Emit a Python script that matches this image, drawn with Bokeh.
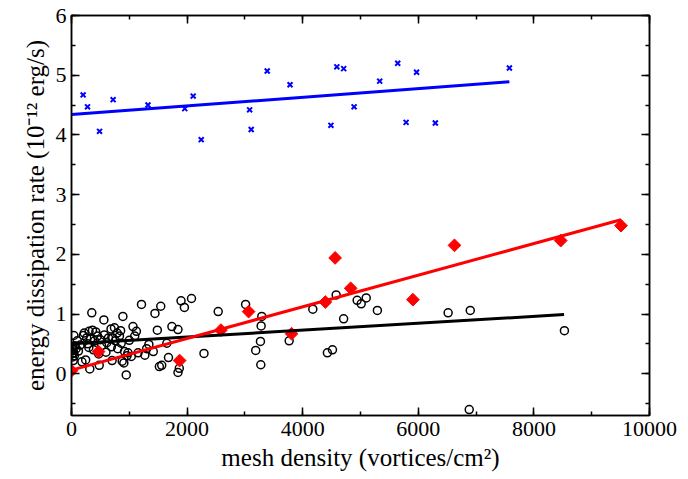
from bokeh.plotting import figure
from bokeh.models import LinearAxis, SingleIntervalTicker, Range1d, CustomJSTickFormatter
from bokeh.embed import file_html
from bokeh.resources import INLINE

# ---- data ----
blue_x = [201, 277, 485, 720, 1323, 1960, 2105, 2244, 3082, 3109, 3386, 3781,
          4488, 4591, 4709, 4889, 5332, 5644, 5789, 5970, 6295, 7576]
blue_y = [4.67, 4.47, 4.06, 4.59, 4.50, 4.44, 4.65, 3.92, 4.42, 4.09, 5.07, 4.84,
          4.16, 5.14, 5.11, 4.47, 4.90, 5.20, 4.21, 5.05, 4.20, 5.12]

red_x = [0, 468, 1871, 2585, 3064, 3807, 4392, 4561, 4830, 5907, 6626, 8464, 9507]
red_y = [0.05, 0.37, 0.22, 0.73, 1.04, 0.67, 1.20, 1.94, 1.43, 1.24, 2.15, 2.23, 2.48]

black_x = [41, 5, 10, 20, 30, 15, 25, 40, 50, 60, 80, 100, 120, 150, 180, 205, 220,
           245, 263, 280, 300, 304, 316, 330, 351, 363, 380, 400, 420, 450, 470, 480,
           497, 520, 560, 567, 596, 610, 640, 684, 690, 702, 713, 743, 760, 789, 800,
           830, 850, 860, 877, 889, 906, 918, 947, 960, 977, 1000, 1035, 1064, 1094,
           1123, 1152, 1211, 1269, 1300, 1339, 1415, 1444, 1485, 1520, 1544, 1561,
           1649, 1678, 1737, 1842, 1842, 1865, 1895, 1953, 2076, 2292, 2538, 3012,
           3187, 3269, 3281, 3292, 3275, 3766, 4175, 4427, 4515, 4579, 4708, 4942,
           5012, 5099, 5292, 6516, 6899, 8528, 6881]
black_y = [0.64, 0.38, 0.33, 0.28, 0.22, 0.45, 0.40, 0.35, 0.30, 0.47, 0.42, 0.55,
           0.38, 0.48, 0.20, 0.64, 0.68, 0.23, 0.60, 0.50, 0.44, 0.71, 0.08, 0.58,
           1.02, 0.73, 0.40, 0.55, 0.70, 0.63, 0.33, 0.14, 0.57, 0.47, 0.90, 0.65,
           0.36, 0.52, 0.60, 0.75, 0.45, 0.22, 0.60, 0.77, 0.55, 0.68, 0.42, 0.63,
           0.72, 0.51, 0.21, 0.96, 0.18, 0.37, -0.02, 0.30, 0.35, 0.56, 0.29, 0.79,
           0.63, 0.71, 0.35, 1.16, 0.31, 0.42, 0.49, 0.37, 1.01, 0.73, 0.12, 1.13,
           0.14, 0.51, 0.27, 0.79, 0.74, 0.02, 0.09, 1.22, 1.11, 1.26, 0.34, 1.04,
           1.16, 0.39, 0.54, 0.80, 0.96, 0.15, 0.55, 1.08, 0.35, 0.40, 1.32, 0.92,
           1.23, 1.17, 1.27, 1.06, 1.02, 1.06, 0.72, -0.60]

blue_fit_x = [0, 7576]
blue_fit_y = [4.34, 4.89]
red_fit_x = [0, 9507]
red_fit_y = [0.06, 2.58]
black_fit_x = [0, 8522]
black_fit_y = [0.50, 0.99]

x_label = "mesh density (vortices/cm²)"
y_label = "energy dissipation rate (10⁻¹² erg/s)"

FONT = "'Liberation Serif', 'Times New Roman', serif"

p = figure(width=688, height=479, output_backend="svg", toolbar_location=None,
           x_range=Range1d(0, 10000), y_range=Range1d(-0.7, 6),
           min_border_left=71, min_border_right=39, min_border_top=15,
           min_border_bottom=64)
p.grid.visible = False
p.outline_line_color = "black"
p.outline_line_width = 1.5
p.background_fill_color = "white"
p.border_fill_color = "white"

def style_axis(ax, show_labels=True):
    ax.major_tick_in = 8
    ax.major_tick_out = 0
    ax.minor_tick_in = 4
    ax.minor_tick_out = 0
    ax.major_tick_line_color = "black"
    ax.minor_tick_line_color = "black"
    ax.major_tick_line_width = 1.5
    ax.minor_tick_line_width = 1.5
    ax.axis_line_width = 1.5
    ax.axis_line_color = "black"
    if show_labels:
        ax.major_label_text_font = FONT
        ax.major_label_text_font_size = "22px"
        ax.major_label_text_color = "black"
        ax.axis_label_text_font = FONT
        ax.axis_label_text_font_size = "25px"
        ax.axis_label_text_font_style = "normal"
        ax.axis_label_text_color = "black"
    else:
        ax.formatter = CustomJSTickFormatter(code="return ''")
        ax.major_label_standoff = 0

p.xaxis.ticker = SingleIntervalTicker(interval=2000, num_minor_ticks=2)
p.yaxis.ticker = SingleIntervalTicker(interval=1, num_minor_ticks=2)
p.xaxis.axis_label = x_label
p.yaxis.axis_label = y_label
style_axis(p.xaxis[0])
style_axis(p.yaxis[0])
p.xaxis.major_label_standoff = 6
p.yaxis.major_label_standoff = 5
p.xaxis.axis_label_standoff = 5
p.yaxis.axis_label_standoff = 4

top = LinearAxis(ticker=SingleIntervalTicker(interval=2000, num_minor_ticks=2))
style_axis(top, show_labels=False)
p.add_layout(top, "above")
right = LinearAxis(ticker=SingleIntervalTicker(interval=1, num_minor_ticks=2))
style_axis(right, show_labels=False)
p.add_layout(right, "right")

# black open circles
p.scatter(black_x, black_y, marker="circle", size=8, fill_color=None,
          line_color="black", line_width=1.5)
# red diamonds (rotated squares)
p.scatter(red_x, red_y, marker="square", angle=0.785398, size=9, fill_color="red",
          line_color="red", line_width=1)
# blue crosses
p.scatter(blue_x, blue_y, marker="x", size=7, line_color="blue", line_width=2)

# fit lines
p.line(black_fit_x, black_fit_y, line_color="black", line_width=3)
p.line(red_fit_x, red_fit_y, line_color="red", line_width=3)
p.line(blue_fit_x, blue_fit_y, line_color="blue", line_width=3)

open("out.html", "w").write(file_html(p, INLINE))
